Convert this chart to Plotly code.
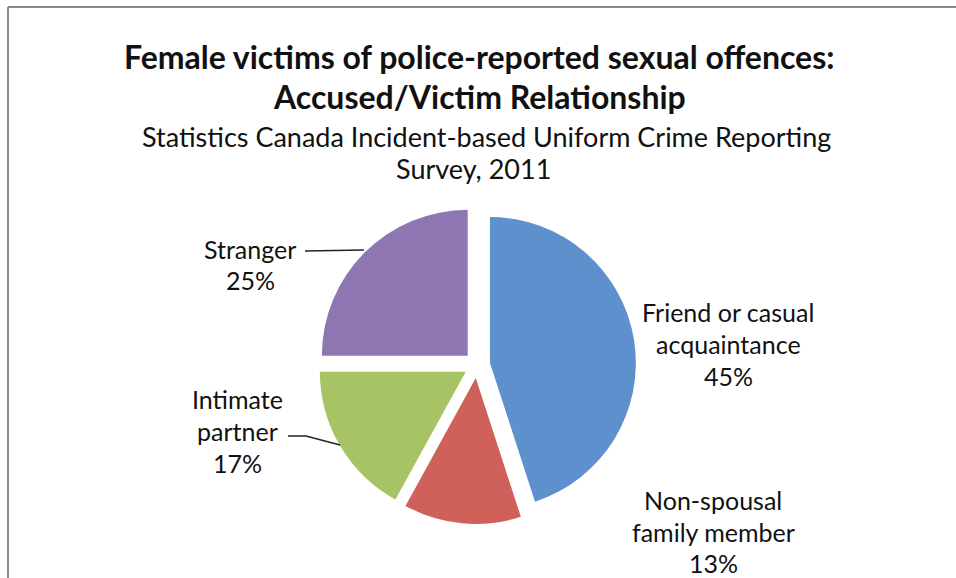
import plotly.graph_objects as go

categories = ["Friend or casual acquaintance", "Non-spousal family member", "Intimate partner", "Stranger"]
values = [45, 13, 17, 25]
colors = ["#5D90CD", "#D0605A", "#A7C465", "#8E76B3"]
label_lines = [
    ["Friend or casual", "acquaintance", "45%"],
    ["Non-spousal", "family member", "13%"],
    ["Intimate", "partner", "17%"],
    ["Stranger", "25%"],
]

W, H = 956, 578
def px(x): return x / W
def py(y): return 1 - y / H

FONT = "Lato"

fig = go.Figure(go.Pie(
    labels=categories,
    values=values,
    sort=False,
    direction="clockwise",
    rotation=0,
    pull=[0.09] * 4,
    marker=dict(colors=colors, line=dict(width=0)),
    textinfo="none",
    hoverinfo="label+percent",
    showlegend=False,
    domain=dict(x=[px(318), px(636)], y=[py(524), py(206)]),
))

annotations = []
def txt(x, y, s, size, bold=False):
    annotations.append(dict(
        x=px(x), y=py(y), xref="paper", yref="paper", text=f"<b>{s}</b>" if bold else s,
        showarrow=False, xanchor="center", yanchor="middle",
        font=dict(family=FONT, size=size, color="#111111"),
    ))

txt(479, 56, "Female victims of police-reported sexual offences:", 32, True)
txt(479, 96, "Accused/Victim Relationship", 32, True)
txt(486, 136, "Statistics Canada Incident-based Uniform Crime Reporting", 27)
txt(473, 169, "Survey, 2011", 27)

label_pos = [(728, [312, 344, 376]), (713, [500, 532, 563]), (237, [399, 431, 463]), (250, [249, 280])]
for (cx, ys), lines in zip(label_pos, label_lines):
    for y, s in zip(ys, lines):
        txt(cx, y, s, 25)

shapes = [
    dict(type="line", xref="paper", yref="paper", x0=px(8), y0=py(7), x1=px(956), y1=py(7),
         line=dict(color="#8a8a8a", width=2)),
    dict(type="line", xref="paper", yref="paper", x0=px(8), y0=py(7), x1=px(8), y1=py(578),
         line=dict(color="#8a8a8a", width=2)),
    dict(type="path", xref="paper", yref="paper",
         path=f"M {px(305)} {py(251)} L {px(364)} {py(250)}",
         line=dict(color="#222222", width=1.5)),
    dict(type="path", xref="paper", yref="paper",
         path=f"M {px(288)} {py(436)} L {px(306)} {py(436)} L {px(340)} {py(445)}",
         line=dict(color="#222222", width=1.5)),
]

fig.update_layout(
    width=W, height=H,
    margin=dict(l=0, r=0, t=0, b=0),
    paper_bgcolor="white", plot_bgcolor="white",
    annotations=annotations, shapes=shapes,
)
fig.write_html("out.html")
